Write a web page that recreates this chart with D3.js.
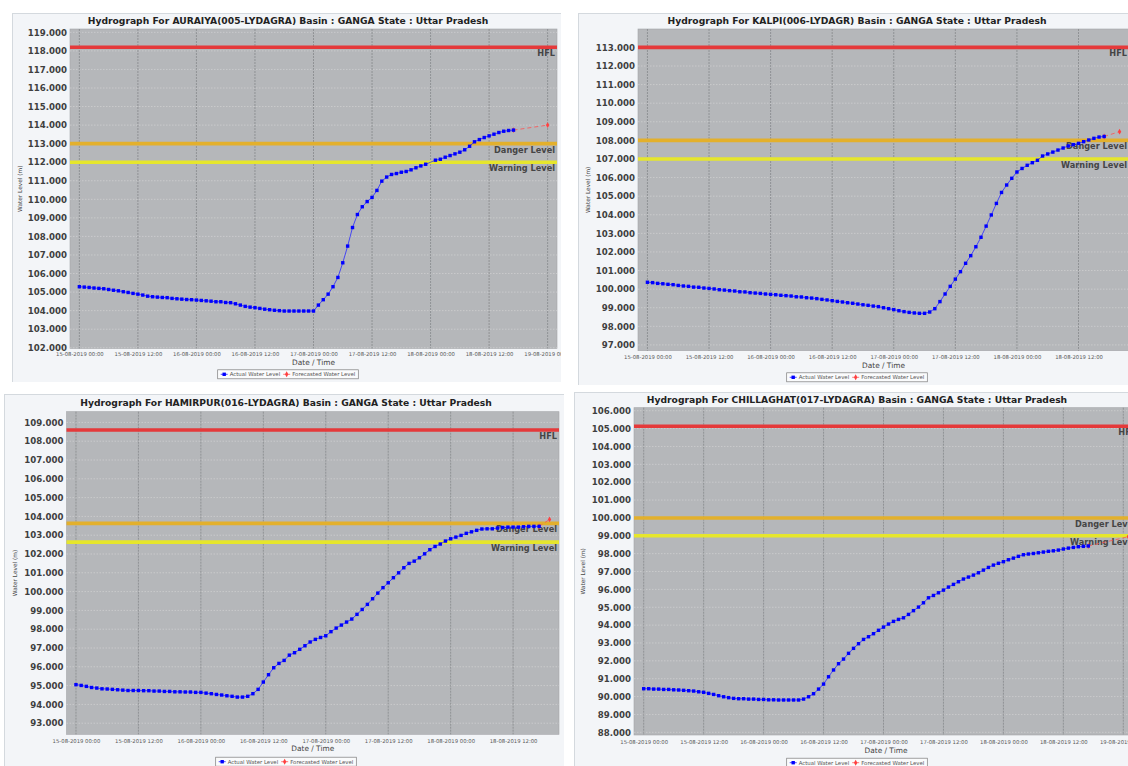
<!DOCTYPE html>
<html>
<head>
<meta charset="utf-8">
<script src="https://cdn.jsdelivr.net/npm/d3@7"></script>
<style>
  body { margin: 0; background: #fff; }
  svg { display: block; font-family: "DejaVu Sans", sans-serif; }
</style>
</head>
<body>
<svg id="chart" width="1128" height="766"></svg>
<script>
const stationTitles = [
  "Hydrograph For AURAIYA(005-LYDAGRA) Basin : GANGA State : Uttar Pradesh",
  "Hydrograph For KALPI(006-LYDAGR) Basin : GANGA State : Uttar Pradesh",
  "Hydrograph For HAMIRPUR(016-LYDAGRA) Basin : GANGA State : Uttar Pradesh",
  "Hydrograph For CHILLAGHAT(017-LYDAGRA) Basin : GANGA State : Uttar Pradesh"
];
const firstReading = "15-08-2019 00:00";   // hourly readings from here
const levelNames = ["HFL", "Danger Level", "Warning Level"];
const legendNames = ["Actual Water Level", "Forecasted Water Level"];

const auraiyaActual = [
  105.29,105.27,105.25,105.22,105.20,105.18,105.14,105.10,105.07,105.02,
  104.98,104.93,104.89,104.84,104.78,104.75,104.73,104.71,104.70,104.66,
  104.64,104.62,104.60,104.59,104.57,104.55,104.53,104.51,104.48,104.48,
  104.44,104.43,104.37,104.30,104.23,104.19,104.16,104.12,104.08,104.05,
  104.02,104.00,103.98,103.98,103.98,103.98,103.98,103.98,103.98,104.30,
  104.59,104.89,105.29,105.79,106.58,107.48,108.48,109.18,109.60,109.88,
  110.10,110.48,110.98,111.20,111.34,111.39,111.46,111.50,111.59,111.70,
  111.80,111.89,null,112.11,112.16,112.27,112.36,112.45,112.54,112.67,
  112.86,113.10,113.22,113.33,113.42,113.51,113.60,113.67,113.71,113.73
];
const auraiyaForecastTimes = ["18-08-2019 17:00", "19-08-2019 00:00"];
const auraiyaForecast = [113.73, 114.00];
const auraiyaLevels = [118.2, 113.0, 112.0];
const auraiyaRange = [101.96, 119.18];

const kalpiActual = [
  100.37,100.35,100.31,100.29,100.26,100.24,100.20,100.17,100.15,100.11,
  100.10,100.06,100.04,100.01,99.97,99.95,99.92,99.90,99.86,99.85,
  99.81,99.79,99.77,99.74,99.72,99.70,99.67,99.65,99.63,99.59,
  99.58,99.54,99.52,99.49,99.45,99.42,99.38,99.34,99.31,99.27,
  99.24,99.20,99.16,99.13,99.09,99.06,99.00,98.95,98.90,98.84,
  98.79,98.75,98.72,98.70,98.70,98.77,98.95,99.33,99.74,100.15,
  100.54,100.94,101.39,101.80,102.28,102.79,103.39,103.99,104.61,105.20,
  105.60,105.96,106.30,106.49,106.66,106.80,106.93,107.16,107.27,107.37,
  107.48,107.59,107.70,107.77,107.84,107.93,108.02,108.11,108.18,108.21
];
const kalpiForecastTimes = ["18-08-2019 17:00", "18-08-2019 20:00"];
const kalpiForecast = [108.21, 108.47];
const kalpiLevels = [113.0, 108.0, 107.0];
const kalpiRange = [96.69, 113.99];

const hamirpurActual = [
  95.05,95.01,94.96,94.90,94.87,94.83,94.82,94.80,94.78,94.76,
  94.74,94.74,94.74,94.73,94.73,94.71,94.71,94.69,94.69,94.67,
  94.67,94.66,94.66,94.64,94.64,94.60,94.57,94.53,94.50,94.46,
  94.43,94.39,94.39,94.43,94.57,94.80,95.19,95.58,95.95,96.18,
  96.34,96.62,96.75,96.93,97.12,97.32,97.46,97.56,97.65,97.87,
  98.06,98.22,98.38,98.54,98.79,99.05,99.32,99.62,99.92,100.21,
  100.47,100.74,101.00,101.27,101.50,101.62,101.80,102.01,102.23,102.40,
  102.53,102.69,102.81,102.90,102.99,103.10,103.18,103.26,103.33,103.34,
  103.34,103.38,103.41,103.43,103.43,103.43,103.45,103.47,103.47,103.47
];
const hamirpurForecastTimes = ["18-08-2019 17:00", "18-08-2019 19:00"];
const hamirpurForecast = [103.47, 103.84];
const hamirpurLevels = [108.6, 103.63, 102.63];
const hamirpurRange = [92.41, 109.57];

const chillaghatActual = [
  90.44,90.44,90.42,90.42,90.40,90.40,90.38,90.37,90.35,90.33,
  90.31,90.27,90.24,90.18,90.12,90.05,89.99,89.94,89.90,89.88,
  89.88,89.86,89.86,89.84,89.84,89.82,89.82,89.81,89.81,89.81,
  89.81,89.81,89.86,89.99,90.16,90.42,90.70,91.11,91.49,91.84,
  92.10,92.42,92.70,92.96,93.20,93.35,93.52,93.71,93.89,94.06,
  94.21,94.32,94.41,94.60,94.81,95.01,95.25,95.53,95.66,95.81,
  95.96,96.13,96.28,96.43,96.58,96.69,96.80,96.93,97.08,97.23,
  97.36,97.46,97.55,97.66,97.75,97.85,97.94,97.98,98.01,98.05,
  98.09,98.13,98.16,98.20,98.26,98.31,98.35,98.39,98.41,98.43
];
const chillaghatForecastTimes = ["18-08-2019 17:00", "19-08-2019 01:00"];
const chillaghatForecast = [98.43, 98.95];
const chillaghatLevels = [105.13, 100.0, 99.0];
const chillaghatRange = [87.85, 106.17];

// ---- drawing ----
const svg = d3.select("#chart");
const parseTime = d3.timeParse("%d-%m-%Y %H:%M");
const fmtTime = d3.timeFormat("%d-%m-%Y %H:%M");
const t0 = parseTime(firstReading);
const levelColors = ["#e5393a", "#e3b02c", "#e6e62c"];

// card / plot boxes for the four screenshots
const panels = [
  { title: stationTitles[0], actual: auraiyaActual, fTimes: auraiyaForecastTimes, fVals: auraiyaForecast,
    levels: auraiyaLevels, yDom: auraiyaRange,
    card: [12, 13, 564, 382], cx: 288, titleY: 24,
    plot: [70, 29, 557, 348.5], xLabY: 355.5, xTitleY: 364.5, legY: 374.3, yTitleX: 22 },
  { title: stationTitles[1], actual: kalpiActual, fTimes: kalpiForecastTimes, fVals: kalpiForecast,
    levels: kalpiLevels, yDom: kalpiRange,
    card: [578, 13, 1136, 385], cx: 857, titleY: 24,
    plot: [638, 29, 1129, 350.7], xLabY: 358.5, xTitleY: 367.5, legY: 377.3, yTitleX: 590 },
  { title: stationTitles[2], actual: hamirpurActual, fTimes: hamirpurForecastTimes, fVals: hamirpurForecast,
    levels: hamirpurLevels, yDom: hamirpurRange,
    card: [4, 394, 567, 800], cx: 286, titleY: 405.5,
    plot: [66.5, 411.7, 559, 734.3], xLabY: 742.5, xTitleY: 751, legY: 761.7, yTitleX: 17 },
  { title: stationTitles[3], actual: chillaghatActual, fTimes: chillaghatForecastTimes, fVals: chillaghatForecast,
    levels: chillaghatLevels, yDom: chillaghatRange,
    card: [574, 392, 1146, 800], cx: 857, titleY: 402.5,
    plot: [634, 407.7, 1138, 735], xLabY: 743.5, xTitleY: 752.8, legY: 762.7, yTitleX: 585 }
];

panels.forEach((p, i) => drawPanel(p, i));

function drawPanel(p, idx) {
  const [cx0, cy0, cx1, cy1] = p.card;
  const [L, T, R, B] = p.plot;

  svg.append("clipPath").attr("id", "clip" + idx)
    .append("rect").attr("x", cx0).attr("y", cy0).attr("width", cx1 - cx0 - 3).attr("height", cy1 - cy0);
  const g = svg.append("g").attr("clip-path", `url(#clip${idx})`);

  g.append("rect")
    .attr("x", cx0 + 0.5).attr("y", cy0 + 0.5)
    .attr("width", cx1 - cx0).attr("height", cy1 - cy0)
    .attr("fill", "#f3f5f8").attr("stroke", "#d4d9de");

  const actual = p.actual
    .map((v, k) => ({ t: d3.timeHour.offset(t0, k), v }))
    .filter(d => d.v !== null);
  const forecast = p.fTimes.map((s, k) => ({ t: parseTime(s), v: p.fVals[k] }));

  // 2% margin either side of the data span, like the original chart
  const tMax = d3.max(forecast, d => d.t);
  const pad = (tMax - t0) * 0.02;
  const x = d3.scaleTime().domain([new Date(+t0 - pad), new Date(+tMax + pad)]).range([L, R]);
  const y = d3.scaleLinear().domain(p.yDom).range([B, T]);

  g.append("rect")
    .attr("x", L).attr("y", T).attr("width", R - L).attr("height", B - T)
    .attr("fill", "#b5b7ba").attr("stroke", "#a3a5a8").attr("stroke-width", 0.6);

  // grid
  const yTicks = y.ticks(20).filter(v => Number.isInteger(v));
  g.append("g").selectAll("line").data(yTicks).join("line")
    .attr("x1", L).attr("x2", R)
    .attr("y1", d => y(d)).attr("y2", d => y(d))
    .attr("stroke", "#d6d7d9").attr("stroke-width", 0.6).attr("stroke-dasharray", "1.5,1.5");

  const xTicks = x.ticks(d3.timeHour.every(12));
  g.append("g").selectAll("line").data(xTicks).join("line")
    .attr("x1", d => x(d)).attr("x2", d => x(d))
    .attr("y1", T).attr("y2", B)
    .attr("stroke", "#808285").attr("stroke-width", 0.7).attr("stroke-dasharray", "2,1");

  // level markers
  p.levels.forEach((lv, k) => {
    g.append("line")
      .attr("x1", L).attr("x2", R).attr("y1", y(lv)).attr("y2", y(lv))
      .attr("stroke", levelColors[k]).attr("stroke-width", 3.6);
    g.append("text")
      .attr("x", R - 2).attr("y", y(lv) + 9)
      .attr("text-anchor", "end")
      .attr("font-size", 8.2).attr("font-weight", "bold").attr("fill", "#454545")
      .text(levelNames[k]);
  });

  // forecast (dashed red), then actual (blue squares)
  const line = d3.line().x(d => x(d.t)).y(d => y(d.v));
  g.append("path").datum(forecast).attr("d", line)
    .attr("fill", "none").attr("stroke", "#ff5050").attr("stroke-width", 0.8).attr("stroke-dasharray", "4,3");
  g.append("g").selectAll("path").data(forecast).join("path")
    .attr("transform", d => `translate(${x(d.t)},${y(d.v)})`)
    .attr("d", d3.symbol(d3.symbolDiamond, 10))
    .attr("fill", "#ff4040");

  g.append("path").datum(actual).attr("d", line)
    .attr("fill", "none").attr("stroke", "#2a2aff").attr("stroke-width", 0.8);
  g.append("g").selectAll("rect").data(actual).join("rect")
    .attr("x", d => x(d.t) - 1.7).attr("y", d => y(d.v) - 1.7)
    .attr("width", 3.4).attr("height", 3.4)
    .attr("fill", "#0000ff");

  // axes
  const yAxis = g.append("g").attr("transform", `translate(${L},0)`)
    .call(d3.axisLeft(y).tickValues(yTicks).tickFormat(d3.format(".3f")).tickSize(0).tickPadding(3));
  yAxis.select(".domain").remove();
  yAxis.selectAll("text")
    .attr("font-family", "DejaVu Sans").attr("font-size", 8.6).attr("font-weight", "bold").attr("fill", "#3f3f3f");

  const xAxis = g.append("g").attr("transform", `translate(0,${p.xLabY - 5})`)
    .call(d3.axisBottom(x).ticks(d3.timeHour.every(12)).tickFormat(fmtTime).tickSize(0).tickPadding(0));
  xAxis.select(".domain").remove();
  xAxis.selectAll("text")
    .attr("dy", 0).attr("y", 5)
    .attr("font-family", "DejaVu Sans").attr("font-size", 5.3).attr("fill", "#5a5a5a");

  g.append("text")
    .attr("x", (L + R) / 2).attr("y", p.xTitleY)
    .attr("text-anchor", "middle").attr("font-size", 7.4).attr("fill", "#444")
    .text("Date / Time");

  g.append("text")
    .attr("transform", `translate(${p.yTitleX},${(T + B) / 2}) rotate(-90)`)
    .attr("text-anchor", "middle").attr("font-size", 5.8).attr("fill", "#444")
    .text("Water Level (m)");

  // title
  g.append("text")
    .attr("x", p.cx).attr("y", p.titleY)
    .attr("text-anchor", "middle")
    .attr("font-size", 9.2).attr("font-weight", "bold").attr("fill", "#222")
    .text(p.title);

  // legend
  const lg = g.append("g");
  const box = lg.append("rect");
  let cur = 3;
  [["#0000ff", "sq"], ["#ff4040", "di"]].forEach(([col, shape], k) => {
    lg.append("line").attr("x1", cur).attr("x2", cur + 7).attr("y1", 0).attr("y2", 0)
      .attr("stroke", col).attr("stroke-width", 0.7);
    if (shape === "sq") {
      lg.append("rect").attr("x", cur + 1.8).attr("y", -1.7).attr("width", 3.4).attr("height", 3.4).attr("fill", col);
    } else {
      lg.append("path").attr("transform", `translate(${cur + 3.5},0)`)
        .attr("d", d3.symbol(d3.symbolDiamond, 10)).attr("fill", col);
    }
    const t = lg.append("text").attr("x", cur + 9).attr("y", 2)
      .attr("font-size", 5.4).attr("fill", "#555").text(legendNames[k]);
    cur += 9 + t.node().getComputedTextLength() + 3;
  });
  box.attr("x", 0).attr("y", -4.5).attr("width", cur).attr("height", 9)
    .attr("fill", "#fafbfc").attr("stroke", "#7d7d7d").attr("stroke-width", 0.7);
  lg.attr("transform", `translate(${p.cx - cur / 2},${p.legY})`);
}
</script>
</body>
</html>
